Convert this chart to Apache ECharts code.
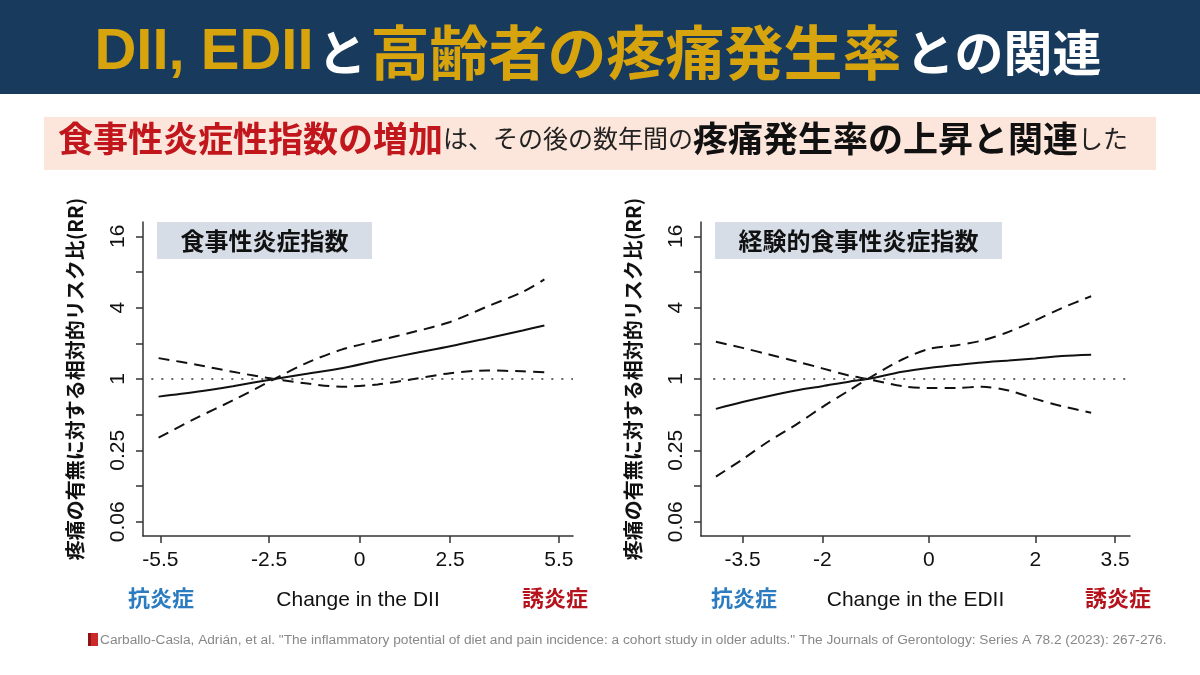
<!DOCTYPE html>
<html>
<head>
<meta charset="utf-8">
<script src="https://cdn.jsdelivr.net/npm/echarts@6.0.0/dist/echarts.min.js"></script>
<style>
  html, body { margin: 0; padding: 0; background: #fff; }
  #main { width: 1200px; height: 675px; }
</style>
</head>
<body>
<div id="main"></div>
<script>
// 左: DII (食事性炎症指数)
const diiX       = [-5.55, -4.5, -3.5, -2.35, -1.5, -0.5, 0.5, 1.5, 2.5, 3.5, 4.5, 5.1];
const diiRR      = [0.71, 0.78, 0.87, 1.0, 1.1, 1.23, 1.43, 1.65, 1.89, 2.2, 2.57, 2.83];
const diiRising  = [0.32, 0.47, 0.66, 1.0, 1.35, 1.77, 2.11, 2.5, 3.03, 4.06, 5.43, 6.92];
const diiFalling = [1.5, 1.32, 1.15, 1.0, 0.92, 0.86, 0.9, 1.0, 1.12, 1.18, 1.16, 1.14];
const diiTicks   = [-5.5, -2.5, 0, 2.5, 5.5];

// 右: EDII (経験的食事性炎症指数)
const ediiX       = [-4, -3.5, -3, -2.5, -2, -1.5, -1.15, -0.5, 0, 0.5, 1, 1.5, 2, 2.5, 3.05];
const ediiRR      = [0.56, 0.64, 0.72, 0.8, 0.87, 0.95, 1.0, 1.15, 1.24, 1.31, 1.38, 1.43, 1.49, 1.56, 1.6];
const ediiRising  = [0.15, 0.21, 0.3, 0.41, 0.58, 0.8, 1.0, 1.46, 1.79, 1.92, 2.11, 2.5, 3.12, 3.97, 4.99];
const ediiFalling = [2.06, 1.83, 1.61, 1.41, 1.23, 1.07, 1.0, 0.87, 0.84, 0.84, 0.86, 0.8, 0.68, 0.59, 0.52];
const ediiTicks   = [-3.5, -2, 0, 2, 3.5];

// RR軸 (log2)
const yTickValues  = [0.0625, 0.125, 0.25, 0.5, 1, 2, 4, 8, 16];
const yLabelValues = [0.0625, 0.25, 1, 4, 16];
const yLabels      = ['0.06', '0.25', '1', '4', '16'];

const JP = '"Noto Sans CJK JP", sans-serif';
const EN = '"Liberation Sans", Arial, sans-serif';
const INK = '#111';

function toPoints(xs, ys) {
    return xs.map((x, i) => [x, Math.log2(ys[i])]);
}

function yAxisFor(gridIndex) {
    return {
        type: 'value', gridIndex: gridIndex, min: -4.4, max: 4.4,
        name: '疼痛の有無に対する相対的リスク比(RR)',
        nameLocation: 'middle', nameRotate: 90, nameGap: 58,
        nameTextStyle: { fontFamily: JP, fontSize: 20, fontWeight: 'bold', color: INK },
        axisLine: { show: true, onZero: false, lineStyle: { color: '#333', width: 1.5 } },
        axisTick: { show: true, length: 7, customValues: yTickValues.map(Math.log2),
                    lineStyle: { color: '#333', width: 1.5 } },
        axisLabel: {
            customValues: yLabelValues.map(Math.log2), rotate: 90, margin: 14,
            fontFamily: EN, fontSize: 21, color: INK,
            formatter: function (v) {
                let i = yLabelValues.findIndex(t => Math.abs(Math.log2(t) - v) < 1e-6);
                return i < 0 ? '' : yLabels[i];
            }
        },
        splitLine: { show: false }
    };
}

function xAxisFor(gridIndex, name, min, max, ticks) {
    return {
        type: 'value', gridIndex: gridIndex, min: min, max: max,
        name: name, nameLocation: 'middle', nameGap: 54,
        nameTextStyle: { fontFamily: EN, fontSize: 21, color: INK },
        axisLine: { show: true, onZero: false, lineStyle: { color: '#333', width: 1.5 } },
        axisTick: { show: true, length: 7, customValues: ticks, lineStyle: { color: '#333', width: 1.5 } },
        axisLabel: { customValues: ticks, margin: 14, fontFamily: EN, fontSize: 21, color: INK,
                     formatter: v => String(v) },
        splitLine: { show: false }
    };
}

function curves(idx, xs, rr, rising, falling, dotFrom, dotTo) {
    let solid = { type: 'solid', color: INK, width: 2 };
    let dashed = { type: [11, 7], color: INK, width: 2 };
    return [
        { type: 'line', xAxisIndex: idx, yAxisIndex: idx, data: toPoints(xs, rr), smooth: 0.3,
          showSymbol: false, lineStyle: solid, z: 3,
          markLine: { symbol: 'none', silent: true, label: { show: false },
                      lineStyle: { type: [2, 8], color: '#333', width: 1.6 },
                      data: [[{ coord: [dotFrom, 0] }, { coord: [dotTo, 0] }]] } },
        { type: 'line', xAxisIndex: idx, yAxisIndex: idx, data: toPoints(xs, rising), smooth: 0.3,
          showSymbol: false, lineStyle: dashed },
        { type: 'line', xAxisIndex: idx, yAxisIndex: idx, data: toPoints(xs, falling), smooth: 0.3,
          showSymbol: false, lineStyle: dashed }
    ];
}

function sideLabel(x, text, color) {
    return { type: 'text', style: { x: x, y: 598, text: text, align: 'center', verticalAlign: 'middle',
             fontFamily: JP, fontSize: 22, fontWeight: 'bold', fill: color } };
}

function panelTag(x, w, text) {
    return [
        { type: 'rect', shape: { x: x, y: 222, width: w, height: 37 }, style: { fill: '#d6dde7' } },
        { type: 'text', style: { x: x + w / 2, y: 241, text: text, align: 'center', verticalAlign: 'middle',
          fontFamily: JP, fontSize: 24, fontWeight: 'bold', fill: INK } }
    ];
}

const chart = echarts.init(document.getElementById('main'));
chart.setOption({
    animation: false,
    backgroundColor: '#fff',
    grid: [
        { left: 143, top: 222, width: 430, height: 314, outerBoundsMode: 'none' },
        { left: 701, top: 222, width: 429, height: 314, outerBoundsMode: 'none' }
    ],
    xAxis: [
        xAxisFor(0, 'Change in the DII', -5.98, 5.89, diiTicks),
        xAxisFor(1, 'Change in the EDII', -4.28, 3.78, ediiTicks)
    ],
    yAxis: [yAxisFor(0), yAxisFor(1)],
    series: [].concat(
        curves(0, diiX, diiRR, diiRising, diiFalling, -5.75, 5.89),
        curves(1, ediiX, ediiRR, ediiRising, ediiFalling, -4.05, 3.78)
    ),
    graphic: [
        { type: 'rect', shape: { x: 0, y: 0, width: 1200, height: 94 }, style: { fill: '#183a5c' } },
        { type: 'text', left: 'center', top: 23,
          style: {
              text: '{g|DII, EDII}{w|と}{k|高齢者の疼痛発生率}{w|との関連}',
              rich: {
                  g: { fontFamily: EN, fontSize: 58, fontWeight: 'bold', fill: '#d8a40e', lineHeight: 64, verticalAlign: 'middle' },
                  k: { fontFamily: JP, fontSize: 59, fontWeight: 'bold', fill: '#d8a40e', lineHeight: 64, verticalAlign: 'middle' },
                  w: { fontFamily: JP, fontSize: 49, fontWeight: 'bold', fill: '#ffffff', lineHeight: 64, verticalAlign: 'middle', padding: [0, 4] }
              }
          } },
        { type: 'rect', shape: { x: 44, y: 117, width: 1112, height: 53 }, style: { fill: '#fce6db' } },
        { type: 'text', left: 58, top: 121,
          style: {
              text: '{r|食事性炎症性指数の増加}{n|は、その後の数年間の}{b|疼痛発生率の上昇と関連}{n|した}',
              rich: {
                  r: { fontFamily: JP, fontSize: 35, fontWeight: 'bold', fill: '#c0161c', lineHeight: 44, verticalAlign: 'middle' },
                  n: { fontFamily: JP, fontSize: 25, fill: '#222', lineHeight: 44, verticalAlign: 'middle' },
                  b: { fontFamily: JP, fontSize: 35, fontWeight: 'bold', fill: INK, lineHeight: 44, verticalAlign: 'middle' }
              }
          } },
        ...panelTag(157, 215, '食事性炎症指数'),
        ...panelTag(715, 287, '経験的食事性炎症指数'),
        sideLabel(161, '抗炎症', '#2a7bbf'),
        sideLabel(555, '誘炎症', '#b5121b'),
        sideLabel(744, '抗炎症', '#2a7bbf'),
        sideLabel(1118, '誘炎症', '#b5121b'),
        { type: 'rect', shape: { x: 88, y: 633, width: 10, height: 13 }, style: { fill: '#cc2a2a' } },
        { type: 'rect', shape: { x: 88, y: 633, width: 3, height: 13 }, style: { fill: '#8e1414' } },
        { type: 'text', style: { x: 100, y: 640, verticalAlign: 'middle', fontFamily: EN, fontSize: 13.7, fill: '#888',
          text: 'Carballo-Casla, Adrián, et al. "The inflammatory potential of diet and pain incidence: a cohort study in older adults." The Journals of Gerontology: Series A 78.2 (2023): 267-276.' } }
    ]
});
</script>
</body>
</html>
